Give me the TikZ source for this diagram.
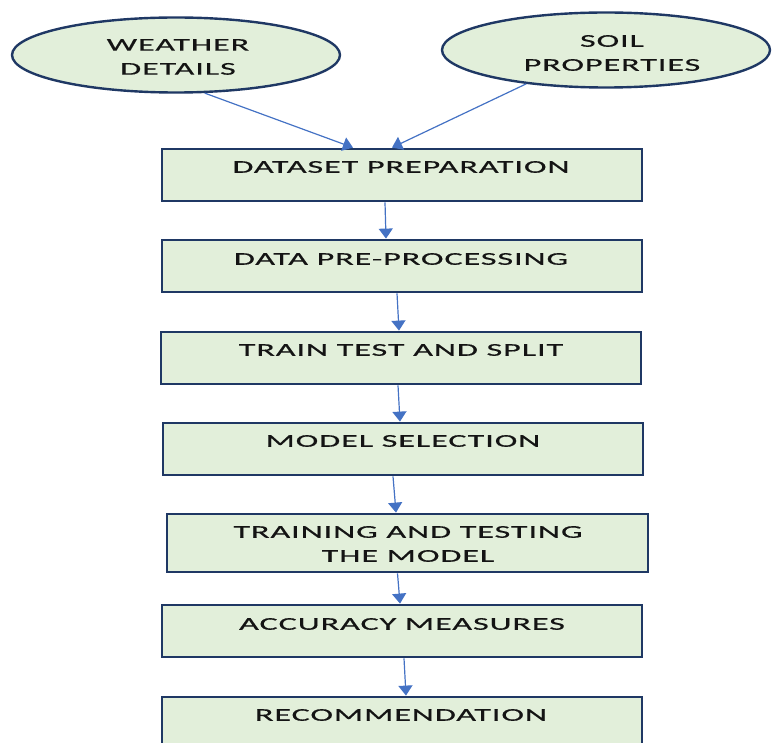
\documentclass[tikz,border=0pt]{standalone}
\usepackage{fontspec}
\setmainfont{Carlito}[FakeStretch=1.9,LetterSpace=5,FakeBold=0.4]
\usetikzlibrary{shapes.geometric,arrows.meta,calc}
\definecolor{boxfill}{HTML}{E2EFDA}
\definecolor{boxline}{HTML}{1F3864}
\definecolor{arrowblue}{HTML}{4472C4}
\definecolor{txt}{HTML}{141414}
\tikzset{
  oval/.style={ellipse,draw=boxline,fill=boxfill,line width=2.4pt,minimum width=328pt,minimum height=75pt,inner sep=0pt},
  stepbox/.style={rectangle,draw=boxline,fill=boxfill,line width=2.8pt,minimum width=480pt,minimum height=52pt,inner sep=0pt},
  lbl/.style={text=txt,font=\fontsize{18}{24}\selectfont,align=center,inner sep=0pt},
  flow/.style={draw=arrowblue,line width=1.2pt,-{Triangle[width=14pt,length=10pt]}}
}
\begin{document}
\begin{tikzpicture}[x=1pt,y=-1pt]
\useasboundingbox (0,0) rectangle (776,743);
\node[oval] (w) at (176,55) {};
\node[lbl] (wt) at (178,57) {WEATHER\\DETAILS};
\node[oval] (s) at (606,50) {};
\node[lbl] (st) at (612,53) {SOIL\\PROPERTIES};

\node[stepbox] (b1) at (402,175) {};
\node[lbl] (t1) at (401,167) {DATASET PREPARATION};
\node[stepbox] (b2) at (402,266) {};
\node[lbl] (t2) at (401,259) {DATA PRE-PROCESSING};
\node[stepbox] (b3) at (401,358) {};
\node[lbl] (t3) at (401,350) {TRAIN TEST AND SPLIT};
\node[stepbox] (b4) at (403,449) {};
\node[lbl] (t4) at (403,441) {MODEL SELECTION};
\node[stepbox,minimum width=481pt,minimum height=58pt] (b5) at (407.5,543) {};
\node[lbl] (t5) at (408,544) {TRAINING AND TESTING\\THE MODEL};
\node[stepbox] (b6) at (402,631) {};
\node[lbl] (t6) at (402,624) {ACCURACY MEASURES};
\node[stepbox] (b7) at (402,723) {};
\node[lbl] (t7) at (401,715) {RECOMMENDATION};

\draw[flow] (w.-53) -- ($(b1.north)+(-49,0)$);
\draw[flow] (s.203) -- ($(b1.north)+(-10,0)$);
\draw[flow] ($(b1.south)+(-17,0)$) -- ($(b2.north)+(-16,0)$);
\draw[flow] ($(b2.south)+(-5,0)$) -- ($(b3.north)+(-2,0)$);
\draw[flow] ($(b3.south)+(-3,0)$) -- ($(b4.north)+(-3,0)$);
\draw[flow] ($(b4.south)+(-10,0)$) -- ($(b5.north)+(-11.5,0)$);
\draw[flow] ($(b5.south)+(-10,0)$) -- ($(b6.north)+(-2,0)$);
\draw[flow] ($(b6.south)+(2,0)$) -- ($(b7.north)+(4,0)$);
\end{tikzpicture}
\end{document}
